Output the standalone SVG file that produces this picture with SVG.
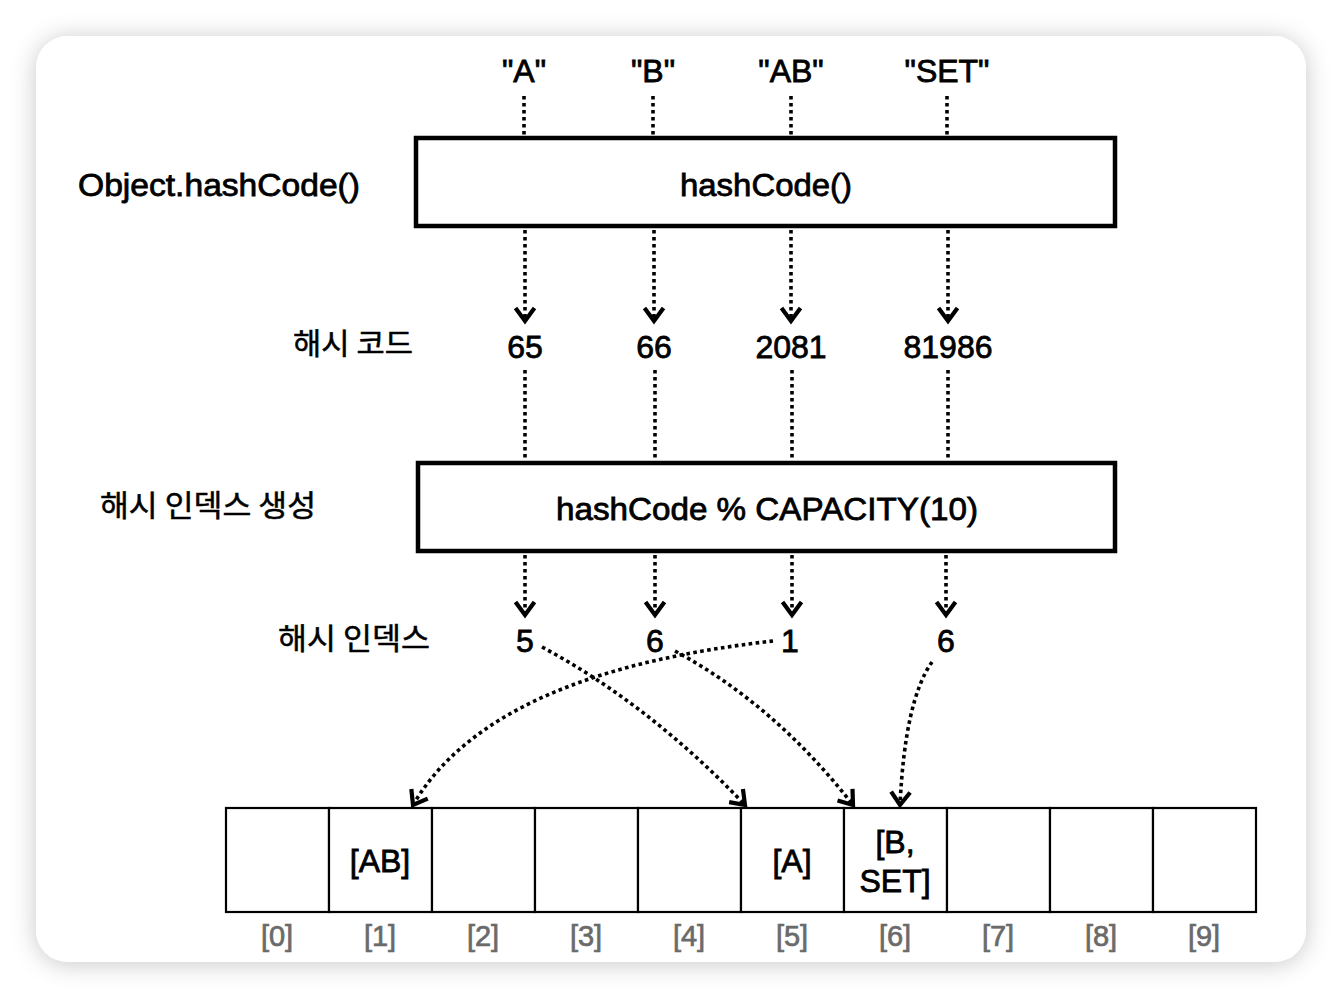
<svg xmlns="http://www.w3.org/2000/svg" width="1342" height="998" viewBox="0 0 1342 998">
<defs>
<filter id="sh" x="-10%" y="-10%" width="120%" height="120%">
<feDropShadow dx="0" dy="2" stdDeviation="12" flood-color="#000" flood-opacity="0.22"/>
</filter>
<marker id="ac" viewBox="0 0 30 30" refX="22" refY="15" markerWidth="30" markerHeight="30" markerUnits="userSpaceOnUse" orient="auto" overflow="visible">
<path d="M9,5.5 L22,15 L9,24.5" fill="none" stroke="#000" stroke-width="4.2" stroke-dasharray="none" stroke-linejoin="miter"/>
</marker>
<style>
.t{font-family:"Liberation Sans",Arial,sans-serif;font-size:32px;fill:#000;stroke:#000;stroke-width:0.8;text-anchor:middle}
.k{font-family:"Noto Sans CJK KR","Noto Sans",sans-serif;font-size:30px;fill:#000;stroke:#000;stroke-width:0.5}
.g{font-family:"Liberation Sans",Arial,sans-serif;font-size:29px;fill:#6a6a6a;stroke:#6a6a6a;stroke-width:0.7;text-anchor:middle}
.box{fill:#fff;stroke:#000;stroke-width:4.5}
.cell{fill:#fff;stroke:#000;stroke-width:2.2}
.d{fill:none;stroke:#000;stroke-width:3.6;stroke-dasharray:3.6 3.4}
</style>
</defs>
<rect x="0" y="0" width="1342" height="998" fill="#fff"/>
<rect x="36" y="36" width="1270" height="926" rx="32" ry="32" fill="#fff" filter="url(#sh)"/>

<g id="labels-left">
<text class="t" x="78" y="196" style="text-anchor:start" textLength="282" lengthAdjust="spacingAndGlyphs">Object.hashCode()</text>
<text class="k" x="293" y="354" textLength="120" lengthAdjust="spacingAndGlyphs">해시 코드</text>
<text class="k" x="100" y="516" textLength="216" lengthAdjust="spacingAndGlyphs">해시 인덱스 생성</text>
<text class="k" x="278" y="649" textLength="152" lengthAdjust="spacingAndGlyphs">해시 인덱스</text>
</g>

<g id="inputs">
<text class="t" x="524" y="82">"A"</text>
<text class="t" x="653" y="82">"B"</text>
<text class="t" x="791" y="82">"AB"</text>
<text class="t" x="947" y="82">"SET"</text>
</g>

<g id="hashcode-box">
<rect class="box" x="416" y="138" width="699" height="88"/>
<text class="t" x="766" y="196" textLength="172" lengthAdjust="spacingAndGlyphs">hashCode()</text>
</g>

<g id="hash-values">
<text class="t" x="525" y="358">65</text>
<text class="t" x="654" y="358">66</text>
<text class="t" x="791" y="358">2081</text>
<text class="t" x="948" y="358">81986</text>
</g>

<g id="index-box">
<rect class="box" x="418" y="463" width="697" height="88"/>
<text class="t" x="767" y="520" textLength="422" lengthAdjust="spacingAndGlyphs">hashCode % CAPACITY(10)</text>
</g>

<g id="index-values">
<text class="t" x="525" y="652">5</text>
<text class="t" x="655" y="652">6</text>
<text class="t" x="790" y="652">1</text>
<text class="t" x="946" y="652">6</text>
</g>

<g id="connectors">
<path class="d" d="M524,96 V135"/>
<path class="d" d="M653,96 V135"/>
<path class="d" d="M791,96 V135"/>
<path class="d" d="M947,96 V135"/>
<path class="d" d="M525,230 V321" marker-end="url(#ac)"/>
<path class="d" d="M654,230 V321" marker-end="url(#ac)"/>
<path class="d" d="M791,230 V321" marker-end="url(#ac)"/>
<path class="d" d="M948,230 V321" marker-end="url(#ac)"/>
<path class="d" d="M525,370 V461"/>
<path class="d" d="M655,370 V461"/>
<path class="d" d="M792,370 V461"/>
<path class="d" d="M948,370 V461"/>
<path class="d" d="M525,555 V615" marker-end="url(#ac)"/>
<path class="d" d="M655,555 V615" marker-end="url(#ac)"/>
<path class="d" d="M792,555 V615" marker-end="url(#ac)"/>
<path class="d" d="M946,555 V615" marker-end="url(#ac)"/>
<path class="d" d="M542,647 Q650,705 745,805" marker-end="url(#ac)"/>
<path class="d" d="M675,651 Q775,705 853,805" marker-end="url(#ac)"/>
<path class="d" d="M773,641 C650,655 480,690 413,805" marker-end="url(#ac)"/>
<path class="d" d="M932,662 Q905,700 900,805" marker-end="url(#ac)"/>
</g>

<g id="array">
<rect class="cell" x="226" y="808" width="103" height="104"/>
<rect class="cell" x="329" y="808" width="103" height="104"/>
<rect class="cell" x="432" y="808" width="103" height="104"/>
<rect class="cell" x="535" y="808" width="103" height="104"/>
<rect class="cell" x="638" y="808" width="103" height="104"/>
<rect class="cell" x="741" y="808" width="103" height="104"/>
<rect class="cell" x="844" y="808" width="103" height="104"/>
<rect class="cell" x="947" y="808" width="103" height="104"/>
<rect class="cell" x="1050" y="808" width="103" height="104"/>
<rect class="cell" x="1153" y="808" width="103" height="104"/>
<text class="t" x="380" y="872">[AB]</text>
<text class="t" x="792" y="872">[A]</text>
<text class="t" x="895" y="853">[B,</text>
<text class="t" x="895" y="892">SET]</text>
</g>

<g id="array-indices">
<text class="g" x="277" y="946">[0]</text>
<text class="g" x="380" y="946">[1]</text>
<text class="g" x="483" y="946">[2]</text>
<text class="g" x="586" y="946">[3]</text>
<text class="g" x="689" y="946">[4]</text>
<text class="g" x="792" y="946">[5]</text>
<text class="g" x="895" y="946">[6]</text>
<text class="g" x="998" y="946">[7]</text>
<text class="g" x="1101" y="946">[8]</text>
<text class="g" x="1204" y="946">[9]</text>
</g>
</svg>
